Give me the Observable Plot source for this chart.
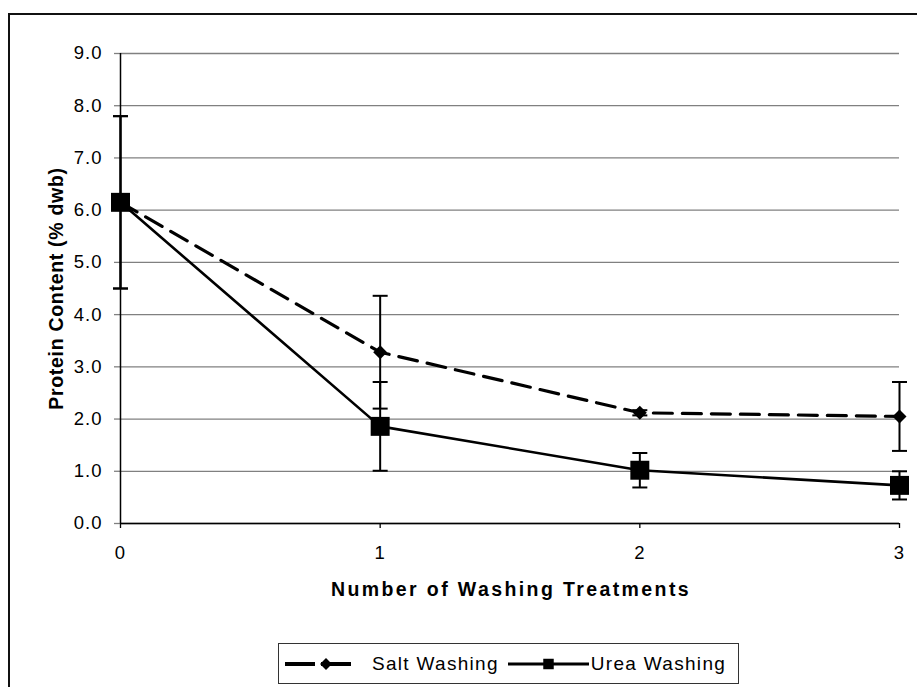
<!DOCTYPE html>
<html>
<head>
<meta charset="utf-8">
<script src="https://cdn.jsdelivr.net/npm/d3@7"></script>
<script src="https://cdn.jsdelivr.net/npm/@observablehq/plot@0.6"></script>
<style>
  html, body { margin: 0; padding: 0; background: #fff; }
  #wrap { position: relative; width: 917px; height: 687px; overflow: hidden; font-family: "Liberation Sans", Arial, sans-serif; }
  #frame { position: absolute; left: 8px; top: 13px; width: 1000px; height: 1000px; border-left: 2px solid #111; border-top: 2px solid #111; box-sizing: border-box; }
  #chart { position: absolute; left: 0; top: 0; }
  #chart svg { letter-spacing: 1px; }
  #legend { position: absolute; left: 278px; top: 643px; width: 461px; height: 41px; border: 1.5px solid #333; box-sizing: border-box; background: #fff; display: flex; align-items: center; font-size: 19px; letter-spacing: 1.3px; color: #000; white-space: nowrap; }
  #legend .item { display: flex; align-items: center; white-space: nowrap; }
  #legend svg { display: block; flex: none; }
</style>
</head>
<body>
<div id="wrap">
  <div id="frame"></div>
  <div id="chart"></div>
  <div id="legend"></div>
</div>
<script>
// ---- data ----
const washings = [0, 1, 2, 3];
const seriesNames = ["Salt Washing", "Urea Washing"];
const saltValues = [6.15, 3.28, 2.12, 2.05];
const saltErrors = [1.65, 1.08, 0.05, 0.66];
const ureaValues = [6.15, 1.86, 1.02, 0.73];
const ureaErrors = [1.65, 0.85, 0.33, 0.27];
const yTicks = [0, 1, 2, 3, 4, 5, 6, 7, 8, 9];
const xTicks = [0, 1, 2, 3];
const xTitle = "Number of Washing Treatments";
const yTitle = "Protein Content (% dwb)";

const salt = washings.map((x, i) => ({series: seriesNames[0], x, y: saltValues[i], e: saltErrors[i]}));
const urea = washings.map((x, i) => ({series: seriesNames[1], x, y: ureaValues[i], e: ureaErrors[i]}));
const all = salt.concat(urea);

// horizontal cap symbol for error bars
const capSymbol = {
  draw(context, size) {
    const r = Math.sqrt(size / Math.PI);
    context.moveTo(-r, 0);
    context.lineTo(r, 0);
  }
};

const chart = Plot.plot({
  width: 917,
  height: 630,
  marginLeft: 120,
  marginRight: 18,
  marginTop: 53,
  marginBottom: 107,
  style: {fontFamily: "'Liberation Sans', Arial, sans-serif", fontSize: "18px", color: "#000", background: "transparent", overflow: "visible"},
  x: {domain: [0, 3]},
  y: {domain: [0, 9]},
  marks: [
    Plot.gridY(yTicks, {stroke: "#808080", strokeOpacity: 1, strokeWidth: 1.3}),
    Plot.axisY({ticks: yTicks, tickFormat: d3.format(".1f"), tickSize: 6, tickPadding: 12, label: null, stroke: "#808080", strokeWidth: 1.3, fontSize: 18.5, fill: "#000"}),
    Plot.axisX({ticks: xTicks, tickFormat: d => String(d), tickSize: 5, tickPadding: 17, label: null, strokeWidth: 1.3, fontSize: 18.5, fill: "#000"}),
    Plot.ruleX([0], {stroke: "#000", strokeWidth: 1.5}),
    Plot.ruleY([0], {stroke: "#000", strokeWidth: 1.5}),
    Plot.line(salt, {x: "x", y: "y", stroke: "#000", strokeWidth: 3.2, strokeDasharray: "19,10"}),
    Plot.line(urea, {x: "x", y: "y", stroke: "#000", strokeWidth: 2.6}),
    Plot.ruleX(all, {x: "x", y1: d => d.y - d.e, y2: d => d.y + d.e, stroke: "#000", strokeWidth: 2}),
    Plot.dot(all, {x: "x", y: d => d.y + d.e, symbol: capSymbol, r: 7.5, stroke: "#000", strokeWidth: 2, fill: "none"}),
    Plot.dot(all, {x: "x", y: d => d.y - d.e, symbol: capSymbol, r: 7.5, stroke: "#000", strokeWidth: 2, fill: "none"}),
    Plot.dot(salt, {x: "x", y: "y", symbol: "diamond2", r: 6.3, fill: "#000", stroke: "none"}),
    Plot.dot(urea, {x: "x", y: "y", symbol: "square", r: 10.7, fill: "#000", stroke: "none"}),
    Plot.text([xTitle], {frameAnchor: "bottom", textAnchor: "middle", dy: 72, dx: 1, fontWeight: "bold", fontSize: 19.5, fill: "#000"}),
    Plot.text([yTitle], {frameAnchor: "left", textAnchor: "middle", rotate: -90, dx: -64, fontWeight: "bold", fontSize: 19.5, fill: "#000"})
  ]
});
d3.select(chart).selectAll("text")
  .filter(function () { return this.textContent === xTitle; })
  .style("letter-spacing", "2.4px");
d3.select(chart).selectAll("text")
  .filter(function () { return this.textContent === yTitle; })
  .style("letter-spacing", "0.7px");
document.getElementById("chart").appendChild(chart);

// ---- legend ----
const legend = document.getElementById("legend");
function swatch(dashed, marker, w) {
  const h = 20;
  const ns = "http://www.w3.org/2000/svg";
  const s = document.createElementNS(ns, "svg");
  s.setAttribute("width", w); s.setAttribute("height", h);
  const l = document.createElementNS(ns, "line");
  l.setAttribute("x1", 0); l.setAttribute("x2", w); l.setAttribute("y1", h / 2); l.setAttribute("y2", h / 2);
  l.setAttribute("stroke", "#000"); l.setAttribute("stroke-width", dashed ? 4 : 3);
  if (dashed) l.setAttribute("stroke-dasharray", "30,6");
  s.appendChild(l);
  const p = document.createElementNS(ns, "path");
  const sym = marker === "diamond" ? d3.symbol(d3.symbolDiamond2, 90) : d3.symbol(d3.symbolSquare, 110);
  p.setAttribute("d", sym());
  p.setAttribute("transform", `translate(${marker === "diamond" ? 41 : w / 2},${h / 2})`);
  p.setAttribute("fill", "#000");
  s.appendChild(p);
  return s;
}
const items = [
  {name: seriesNames[0], dashed: true, marker: "diamond", ml: 6, w: 72, gap: 15},
  {name: seriesNames[1], dashed: false, marker: "square", ml: 9, w: 81, gap: 2}
];
for (const it of items) {
  const d = document.createElement("div");
  d.className = "item";
  d.style.marginLeft = it.ml + "px";
  const sw = swatch(it.dashed, it.marker, it.w);
  sw.style.marginRight = it.gap + "px";
  d.appendChild(sw);
  const t = document.createElement("span");
  t.textContent = it.name;
  d.appendChild(t);
  legend.appendChild(d);
}
</script>
</body>
</html>
